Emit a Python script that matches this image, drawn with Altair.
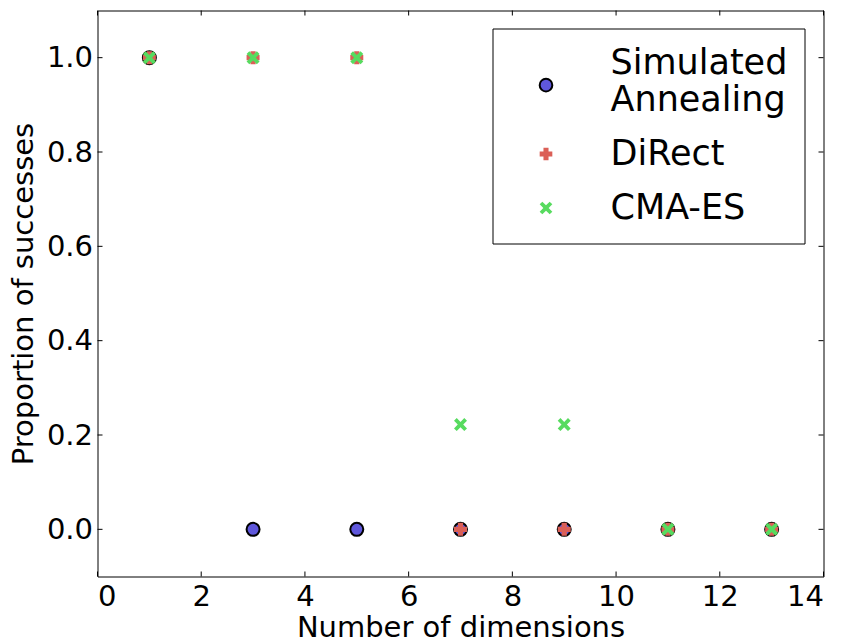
import altair as alt
import pandas as pd

dimensions = [1, 3, 5, 7, 9, 11, 13]
sa_values = [1.0, 0.0, 0.0, 0.0, 0.0, 0.0, 0.0]
direct_values = [1.0, 1.0, 1.0, 0.0, 0.0, 0.0, 0.0]
cmaes_values = [1.0, 1.0, 1.0, 0.222, 0.222, 0.0, 0.0]
series_names = ["Simulated Annealing", "DiRect", "CMA-ES"]
series_fill = ["#5f57db", "#db5f57", "#57db5f"]
series_stroke = ["black", "transparent", "transparent"]
x_ticks = [0, 2, 4, 6, 8, 10, 12, 14]
y_ticks = [0.0, 0.2, 0.4, 0.6, 0.8, 1.0]

rows = []
for name, vals in zip(series_names, [sa_values, direct_values, cmaes_values]):
    for d, v in zip(dimensions, vals):
        rows.append({"dim": d, "prop": v, "method": name})
df = pd.DataFrame(rows)

W, H = 726, 566
TL = 5
FONT = "DejaVu Sans"

X_PATH = "M1,-0.58L0.42,0L1,0.58L0.58,1L0,0.42L-0.58,1L-1,0.58L-0.42,0L-1,-0.58L-0.58,-1L0,-0.42L0.58,-1Z"
# legend-only circle, shifted down so it sits between the two label lines
K = 3.5
CIRCLE_SHIFTED = f"M1,{K}A1,1 0 1,1 -1,{K}A1,1 0 1,1 1,{K}Z"

xscale = alt.Scale(domain=[0, 14], nice=False, zero=False)
yscale = alt.Scale(domain=[-0.1, 1.1], nice=False, zero=False)

legend = alt.Legend(
    title=None,
    orient="none",
    legendX=395,
    legendY=18,
    strokeColor="black",
    fillColor="white",
    cornerRadius=0,
    padding=17,
    symbolOffset=19,
    labelOffset=47,
    labelFontSize=35,
    labelFont=FONT,
    labelColor="black",
    labelLimit=400,
    symbolSize=160,
    symbolStrokeWidth=2,
    symbolOpacity=1,
    rowPadding=18,
    labelExpr="datum.label == 'Simulated Annealing' ? ['Simulated', 'Annealing'] : datum.label",
)

x_enc = alt.X("dim:Q", scale=xscale,
              axis=alt.Axis(title="Number of dimensions", values=x_ticks, tickSize=0, domain=False,
                            grid=False, labelFontSize=29, titleFontSize=29, labelPadding=6,
                            titlePadding=2, labelFont=FONT, titleFont=FONT, titleFontWeight="normal",
                            labelColor="black", titleColor="black", format="d"))
y_enc = alt.Y("prop:Q", scale=yscale,
              axis=alt.Axis(title="Proportion of successes", values=y_ticks, tickSize=0, domain=False,
                            grid=False, labelFontSize=29, titleFontSize=29, labelPadding=5,
                            titlePadding=8, labelFont=FONT, titleFont=FONT, titleFontWeight="normal",
                            labelColor="black", titleColor="black", format=".1f"))

points = alt.Chart(df).mark_point(filled=True, size=169, strokeWidth=2, opacity=1).encode(
    x=x_enc,
    y=y_enc,
    shape=alt.Shape("method:N", scale=alt.Scale(domain=series_names, range=["circle", "cross", X_PATH]),
                    legend=None),
    fill=alt.Fill("method:N", scale=alt.Scale(domain=series_names, range=series_fill), legend=None),
    stroke=alt.Stroke("method:N", scale=alt.Scale(domain=series_names, range=series_stroke), legend=None),
)

legend_layer = alt.Chart(df).transform_filter(alt.datum.dim < 0).mark_point(
    filled=True, size=160, strokeWidth=2, opacity=1
).encode(
    x=alt.X("dim:Q", scale=xscale),
    y=alt.Y("prop:Q", scale=yscale),
    shape=alt.Shape("method:N", scale=alt.Scale(domain=series_names, range=[CIRCLE_SHIFTED, "cross", X_PATH]),
                    legend=legend, sort=series_names),
    fill=alt.Fill("method:N", scale=alt.Scale(domain=series_names, range=series_fill),
                  legend=legend, sort=series_names),
    stroke=alt.Stroke("method:N", scale=alt.Scale(domain=series_names, range=series_stroke),
                      legend=legend, sort=series_names),
)

xt = pd.DataFrame({"v": x_ticks})
yt = pd.DataFrame({"v": y_ticks})

xtick_bottom = alt.Chart(xt).mark_rule(color="black", strokeWidth=1).encode(
    x=alt.X("v:Q", scale=xscale), y=alt.value(H - TL), y2=alt.value(H))
xtick_top = alt.Chart(xt).mark_rule(color="black", strokeWidth=1).encode(
    x=alt.X("v:Q", scale=xscale), y=alt.value(0), y2=alt.value(TL))
ytick_left = alt.Chart(yt).mark_rule(color="black", strokeWidth=1).encode(
    y=alt.Y("v:Q", scale=yscale), x=alt.value(0), x2=alt.value(TL))
ytick_right = alt.Chart(yt).mark_rule(color="black", strokeWidth=1).encode(
    y=alt.Y("v:Q", scale=yscale), x=alt.value(W - TL), x2=alt.value(W))

chart = alt.layer(xtick_bottom, xtick_top, ytick_left, ytick_right, points, legend_layer).resolve_scale(
    shape="independent", fill="independent", stroke="independent"
).properties(
    width=W, height=H,
    background="white",
    autosize=alt.AutoSizeParams(type="none"),
    padding={"left": 97.5, "top": 10.5, "right": 20.5, "bottom": 64.5},
).configure_view(stroke="black", strokeWidth=1)

chart.save("out.html", embed_options={"renderer": "svg", "actions": False})
